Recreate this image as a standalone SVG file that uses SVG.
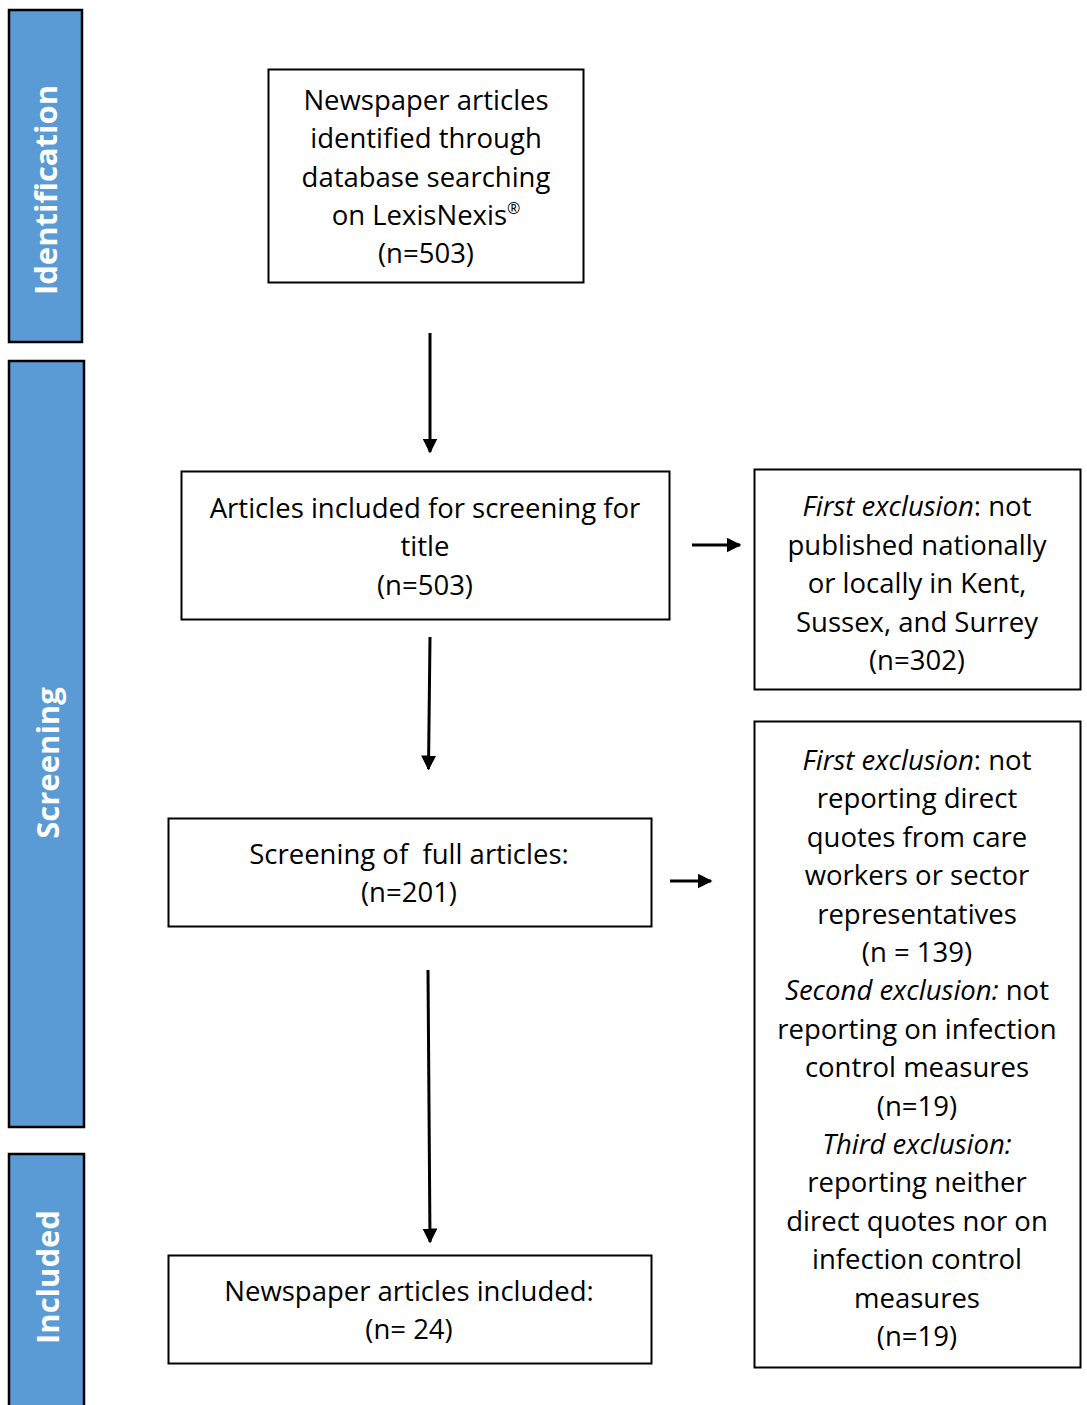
<svg xmlns="http://www.w3.org/2000/svg" width="1087" height="1405" viewBox="0 0 1087 1405">
<style>
.box{fill:#fff;stroke:#000;stroke-width:2}
.bar{fill:#5B9BD5;stroke:#000;stroke-width:2.5}
.t{font-family:"Open Sans","Liberation Sans",sans-serif;font-size:27.5px;fill:#000;text-anchor:middle}
.s{font-family:"Open Sans","Liberation Sans",sans-serif;font-size:31px;font-weight:bold;fill:#fff;text-anchor:middle}
.c{stroke:#000;stroke-width:3;fill:none}
</style>
<defs>
<marker id="ah" markerWidth="5" markerHeight="5" refX="4.5" refY="2.5" orient="auto" markerUnits="strokeWidth" viewBox="0 0 5 5">
<path d="M0,0 L5,2.5 L0,5 Z" fill="#000"/>
</marker>
</defs>
<g id="bar-identification"><rect class="bar" x="9" y="10" width="73" height="332"/><text class="s" transform="translate(57,190) rotate(-90)">Identification</text></g>
<g id="bar-screening"><rect class="bar" x="9" y="361" width="75" height="766"/><text class="s" transform="translate(59,763) rotate(-90)">Screening</text></g>
<g id="bar-included"><rect class="bar" x="9" y="1154" width="75" height="260"/><text class="s" transform="translate(59,1277) rotate(-90)">Included</text></g>
<g id="n1"><rect class="box" x="268.500" y="69.500" width="315" height="213"/>
<text class="t" x="426" y="110">Newspaper articles</text>
<text class="t" x="426" y="148">identified through</text>
<text class="t" x="426" y="187">database searching</text>
<text class="t" x="426" y="225">on LexisNexis<tspan font-size="16" dy="-11">®</tspan></text>
<text class="t" x="426" y="263">(n=503)</text></g>
<g id="n2"><rect class="box" x="181.500" y="471.500" width="488" height="148"/>
<text class="t" x="425" y="518">Articles included for screening for</text>
<text class="t" x="425" y="556">title</text>
<text class="t" x="425" y="595">(n=503)</text></g>
<g id="n3"><rect class="box" x="168.500" y="818.500" width="483" height="108"/>
<text class="t" x="409" y="864">Screening of&#160; full articles:</text>
<text class="t" x="409" y="902">(n=201)</text></g>
<g id="n4"><rect class="box" x="168.500" y="1255.500" width="483" height="108"/>
<text class="t" x="409" y="1301">Newspaper articles included:</text>
<text class="t" x="409" y="1339">(n= 24)</text></g>
<g id="x1"><rect class="box" x="754.500" y="469.500" width="326" height="220"/>
<text class="t" x="917" y="516"><tspan font-style="italic">First exclusion</tspan>: not</text>
<text class="t" x="917" y="555">published nationally</text>
<text class="t" x="917" y="593">or locally in Kent,</text>
<text class="t" x="917" y="632">Sussex, and Surrey</text>
<text class="t" x="917" y="670">(n=302)</text></g>
<g id="x2"><rect class="box" x="754.500" y="721.500" width="326" height="646"/>
<text class="t" x="917" y="770"><tspan font-style="italic">First exclusion</tspan>: not</text>
<text class="t" x="917" y="808">reporting direct</text>
<text class="t" x="917" y="847">quotes from care</text>
<text class="t" x="917" y="885">workers or sector</text>
<text class="t" x="917" y="924">representatives</text>
<text class="t" x="917" y="962">(n = 139)</text>
<text class="t" x="917" y="1000"><tspan font-style="italic">Second exclusion:</tspan> not</text>
<text class="t" x="917" y="1039">reporting on infection</text>
<text class="t" x="917" y="1077">control measures</text>
<text class="t" x="917" y="1116">(n=19)</text>
<text class="t" x="917" y="1154" font-style="italic">Third exclusion:</text>
<text class="t" x="917" y="1192">reporting neither</text>
<text class="t" x="917" y="1231">direct quotes nor on</text>
<text class="t" x="917" y="1269">infection control</text>
<text class="t" x="917" y="1308">measures</text>
<text class="t" x="917" y="1346">(n=19)</text></g>
<g id="connectors">
<line class="c" x1="430" y1="333" x2="430" y2="452" marker-end="url(#ah)"/>
<line class="c" x1="430" y1="637" x2="428.500" y2="769" marker-end="url(#ah)"/>
<line class="c" x1="428" y1="970" x2="430" y2="1242" marker-end="url(#ah)"/>
<line class="c" x1="692" y1="545" x2="740" y2="545" marker-end="url(#ah)"/>
<line class="c" x1="670" y1="881" x2="711" y2="881" marker-end="url(#ah)"/>
</g>
</svg>
